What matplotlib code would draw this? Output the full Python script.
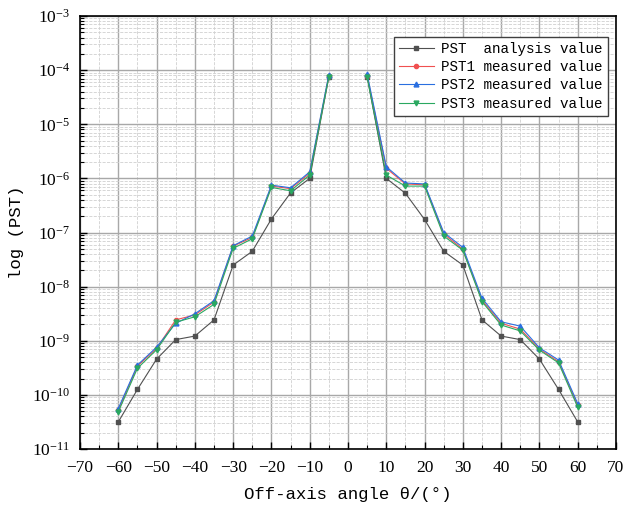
import numpy as np
import matplotlib.pyplot as plt
from matplotlib.ticker import LogLocator, MultipleLocator, NullFormatter

plt.rcParams['font.family'] = ['Liberation Serif', 'DejaVu Serif']

nan = np.nan
# 0 deg has no value, the curves are split into two branches there
angle = [-60, -55, -50, -45, -40, -35, -30, -25, -20, -15, -10, -5, 0,
         5, 10, 15, 20, 25, 30, 35, 40, 45, 50, 55, 60]

pst = [3.16e-11, 1.26e-10, 4.57e-10, 1.05e-9, 1.22e-9, 2.43e-9, 2.5e-8, 4.5e-8,
       1.78e-7, 5.4e-7, 1.0e-6, 7.5e-5, nan,
       7.5e-5, 1.0e-6, 5.3e-7, 1.74e-7, 4.5e-8, 2.5e-8, 2.43e-9, 1.22e-9,
       1.05e-9, 4.57e-10, 1.26e-10, 3.16e-11]

pst1 = [5.2e-11, 3.4e-10, 7.2e-10, 2.43e-9, 3.0e-9, 5.2e-9, 5.6e-8, 8.1e-8,
        7.2e-7, 6.45e-7, 1.24e-6, 7.9e-5, nan,
        7.9e-5, 1.53e-6, 7.9e-7, 7.6e-7, 9.4e-8, 4.9e-8, 5.6e-9, 2.1e-9,
        1.64e-9, 7.0e-10, 4.1e-10, 6.4e-11]

pst2 = [5.6e-11, 3.55e-10, 7.6e-10, 2.1e-9, 3.15e-9, 5.5e-9, 5.7e-8, 8.6e-8,
        7.5e-7, 6.7e-7, 1.32e-6, 8.3e-5, nan,
        8.5e-5, 1.64e-6, 8.2e-7, 7.9e-7, 1.0e-7, 5.3e-8, 6.1e-9, 2.24e-9,
        1.86e-9, 7.4e-10, 4.4e-10, 6.9e-11]

pst3 = [4.85e-11, 3.1e-10, 6.8e-10, 2.2e-9, 2.77e-9, 4.7e-9, 5.1e-8, 7.65e-8,
        6.8e-7, 5.9e-7, 1.15e-6, 7.6e-5, nan,
        7.4e-5, 1.15e-6, 7.2e-7, 7.2e-7, 8.6e-8, 4.7e-8, 5.3e-9, 1.95e-9,
        1.52e-9, 6.7e-10, 3.9e-10, 5.9e-11]

labels = ["PST  analysis value", "PST1 measured value",
          "PST2 measured value", "PST3 measured value"]

mono = "Liberation Mono"

fig = plt.figure(figsize=(6.25, 5.14), dpi=100)
ax = fig.add_axes([80/625, 1-449/514, 536/625, 433/514])

ax.plot(angle, pst, color="#505050", marker="s", ms=3, lw=0.8, label=labels[0])
ax.plot(angle, pst1, color="#f05050", marker="o", ms=3, lw=0.8, label=labels[1])
ax.plot(angle, pst2, color="#2a6fe0", marker="^", ms=3.5, lw=0.8, label=labels[2])
ax.plot(angle, pst3, color="#2aa860", marker="v", ms=3.5, lw=0.8, label=labels[3])

ax.set_yscale("log")
ax.set_xlim(-70, 70)
ax.set_ylim(1e-11, 1e-3)
ax.xaxis.set_major_locator(MultipleLocator(10))
ax.xaxis.set_minor_locator(MultipleLocator(5))
ax.yaxis.set_major_locator(LogLocator(base=10, numticks=20))
ax.yaxis.set_minor_locator(LogLocator(base=10, subs=np.arange(2, 10), numticks=20))
ax.yaxis.set_minor_formatter(NullFormatter())

ax.grid(which="major", color="#a8a8a8", lw=1.0, ls="-")
ax.grid(which="minor", color="#d0d0d0", lw=0.6, ls="--")
ax.set_axisbelow(True)

ax.tick_params(which="both", direction="in", top=False, right=False)
ax.tick_params(which="major", length=5, width=1, labelsize=12.5)
ax.tick_params(axis="x", which="major", pad=8)
ax.tick_params(axis="y", which="major", pad=7)
ax.tick_params(which="minor", length=3, width=0.8)
for s in ax.spines.values():
    s.set_linewidth(1.2)

ax.set_xlabel("Off-axis angle θ/(°)", fontsize=12.5, family=[mono, "DejaVu Sans"], labelpad=8)
ax.set_ylabel("log (PST)", fontsize=12.5, family=mono, labelpad=6)

leg = ax.legend(loc="upper right", bbox_to_anchor=(0.985, 0.952), prop={"family": mono, "size": 10.3},
                fancybox=False, edgecolor="#404040", framealpha=1, borderpad=0.35,
                labelspacing=0.3, handlelength=2.5, handletextpad=0.5, borderaxespad=0)
leg.get_frame().set_linewidth(1.0)

fig.savefig("out.png", dpi=100)
